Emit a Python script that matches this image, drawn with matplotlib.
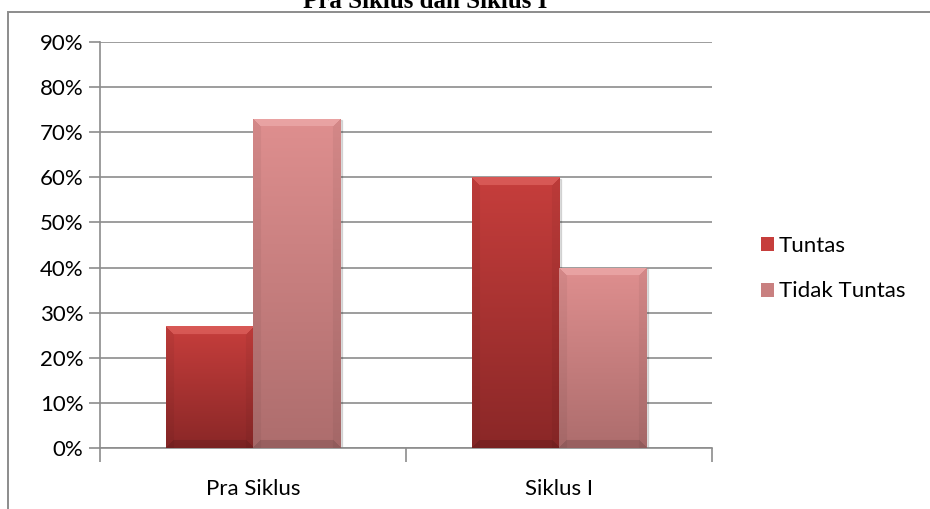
import numpy as np
import matplotlib
matplotlib.use('Agg')
import matplotlib.pyplot as plt
from matplotlib.colors import to_rgb
from matplotlib.patches import Rectangle
from matplotlib.ticker import PercentFormatter

categories = ['Pra Siklus', 'Siklus I']
series = ['Tuntas', 'Tidak Tuntas']
tuntas = [0.27, 0.60]
tidak_tuntas = [0.73, 0.40]
yticks = [0.0, 0.1, 0.2, 0.3, 0.4, 0.5, 0.6, 0.7, 0.8, 0.9]
title = 'Pra Siklus dan Siklus I'

# top / bottom colours of the gradient fill, plus a highlight for the bevel
shades = {'Tuntas': ('#c63e3c', '#8a2727', '#e46a66'),
          'Tidak Tuntas': ('#df8f8f', '#ad6d6d', '#f0b0b0')}

W, H, DPI = 930, 509, 100
FS = 16
fig = plt.figure(figsize=(W / DPI, H / DPI), dpi=DPI)
ax = fig.add_axes([100 / W, (H - 448) / H, 612 / W, 406 / H])

# outer chart frame (cut off at right/bottom like the screenshot)
fig.patches.append(Rectangle((8 / W, -0.1), 1.2, 1 - 12 / H + 0.1,
                             transform=fig.transFigure, fill=False,
                             edgecolor='#8c8c8c', linewidth=1.4, zorder=0))
fig.text(425 / W, 1 - 8 / H, title, ha='center', va='baseline',
         family='Liberation Serif', fontweight='bold', fontsize=18)

x = np.arange(len(categories))
bw = 0.285
ax.set_xlim(-0.5, len(categories) - 0.5)
ax.set_ylim(0, 0.9)
fig.canvas.draw()


def bevel_fill(bar, top, bottom, light):
    x0, y0 = bar.get_x(), bar.get_y()
    w, h = bar.get_width(), bar.get_height()
    p0 = ax.transData.transform((x0, y0))
    p1 = ax.transData.transform((x0 + w, y0 + h))
    pw, ph = int(abs(p1[0] - p0[0])), int(abs(p1[1] - p0[1]))
    t = np.linspace(0, 1, ph)[:, None, None]
    img = (1 - t) * np.array(to_rgb(top)) + t * np.array(to_rgb(bottom))
    img = np.repeat(img, pw, axis=1)
    b = 8
    yy, xx = np.mgrid[0:ph, 0:pw]
    # top bevel lighter, sides and bottom slightly darker
    topm = (yy < b) & (xx >= yy) & (pw - 1 - xx >= yy)
    img[topm] = img[topm] * 0.4 + np.array(to_rgb(light)) * 0.6
    sidem = ((xx < b) | (pw - 1 - xx < b)) & ~topm
    img[sidem] = img[sidem] * 0.95
    botm = (ph - 1 - yy < b) & (xx >= ph - 1 - yy) & (pw - 1 - xx >= ph - 1 - yy)
    img[botm] = img[botm] * 0.88
    im = ax.imshow(img, extent=(x0, x0 + w, y0, y0 + h), aspect='auto',
                   zorder=3, interpolation='bilinear')
    im.set_clip_path(bar)


for vals, name, off in [(tuntas, 'Tuntas', -bw / 2), (tidak_tuntas, 'Tidak Tuntas', bw / 2)]:
    top, bottom, light = shades[name]
    bars = ax.bar(x + off, vals, bw, color=(top if name == 'Tuntas' else '#c98080'),
                  label=name, zorder=2, edgecolor='none')
    for bar in bars:
        # soft shadow
        ax.add_patch(Rectangle((bar.get_x() + 0.006, 0), bar.get_width(),
                               bar.get_height() - 0.004, color='#000000',
                               alpha=0.12, zorder=1))
        bevel_fill(bar, top, bottom, light)

ax.set_xlim(-0.5, len(categories) - 0.5)
ax.set_ylim(0, 0.9)
ax.set_yticks(yticks)
ax.yaxis.set_major_formatter(PercentFormatter(1.0, decimals=0))
ax.set_xticks([-0.5, 0.5, 1.5])
ax.set_xticklabels([])
ax.set_xticks(x, minor=True)
ax.set_xticklabels(categories, minor=True)
ax.tick_params(axis='x', which='minor', length=0, pad=22, labelsize=FS)
ax.tick_params(axis='x', which='major', length=10, color='#8c8c8c', width=1.2)
ax.tick_params(axis='y', length=8, color='#8c8c8c', width=1.2, pad=4, labelsize=FS)
for lab in ax.get_xticklabels(minor=True) + ax.get_yticklabels():
    lab.set_family('Lato')
ax.yaxis.grid(True, color='#8c8c8c', linewidth=1.2, zorder=0)
ax.set_axisbelow(True)
for s in ['top', 'right']:
    ax.spines[s].set_visible(False)
for s in ['left', 'bottom']:
    ax.spines[s].set_color('#8c8c8c')
    ax.spines[s].set_linewidth(1.2)

leg = fig.legend(loc='upper left', bbox_to_anchor=(752 / W, 1 - 227 / H),
                 frameon=False, prop={'family': 'Lato', 'size': FS},
                 handlelength=0.6, handleheight=0.6, handletextpad=0.2,
                 labelspacing=1.15, borderaxespad=0)

fig.savefig('out.png', dpi=DPI)
